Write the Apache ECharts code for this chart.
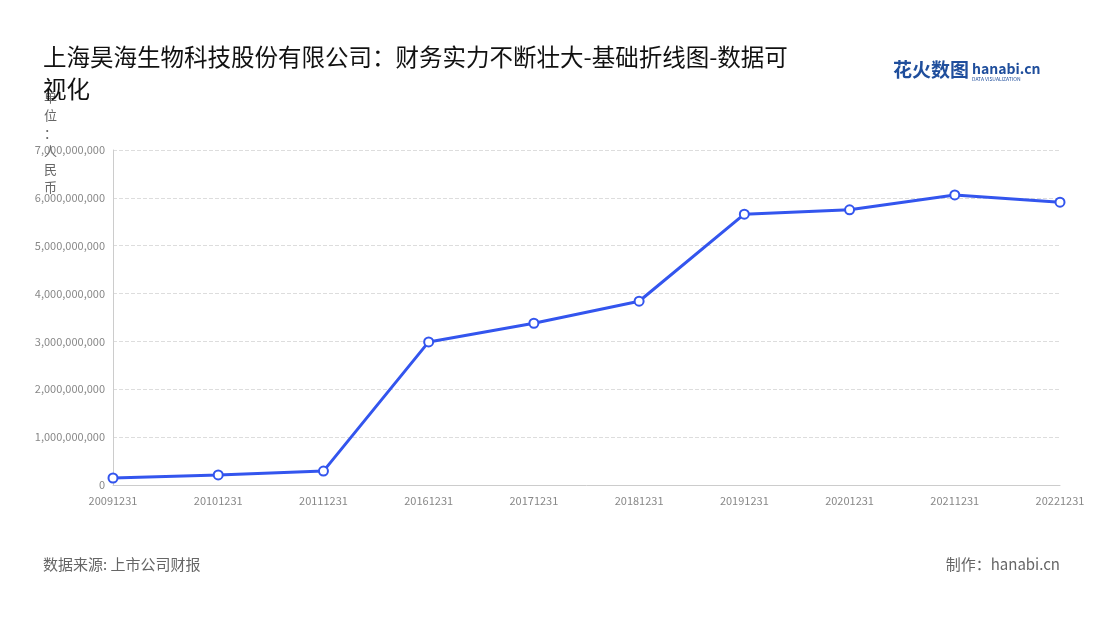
<!DOCTYPE html>
<html><head><meta charset="utf-8">
<script src="https://cdn.jsdelivr.net/npm/echarts@6/dist/echarts.min.js"></script>
<style>html,body{margin:0;padding:0;background:#fff}#c{width:1100px;height:620px}</style>
</head><body><div id="c"></div>
<script>
const categories = ['20091231','20101231','20111231','20161231','20171231','20181231','20191231','20201231','20211231','20221231'];
const values = [146000000,210000000,290000000,2990000000,3380000000,3840000000,5660000000,5750000000,6060000000,5910000000];
const chart = echarts.init(document.getElementById('c'));
const ff = '"Noto Sans CJK SC","Noto Sans",sans-serif';
chart.setOption({
  animation:false,
  textStyle:{fontFamily:ff},
  title:{text:'上海昊海生物科技股份有限公司：财务实力不断壮大-基础折线图-数据可\n视化',left:38,top:36,
    textStyle:{fontSize:23.5,fontWeight:'normal',color:'#111',lineHeight:32,fontFamily:ff}},
  graphic:[
    {type:'text',left:893,top:60,style:{text:'花火数图',fontSize:19,fontWeight:'bold',fill:'#1f4e9c',fontFamily:ff}},
    {type:'text',left:972,top:62,style:{text:'hanabi.cn',fontSize:14,fontWeight:'bold',fill:'#1f4e9c',fontFamily:ff}},
    {type:'text',left:972,top:77,style:{text:'DATA VISUALIZATION',fontSize:5,fill:'#1f4e9c',fontFamily:ff}},
    {type:'text',left:43,top:557,style:{text:'数据来源: 上市公司财报',fontSize:15,fill:'#666',fontFamily:ff}},
    {type:'text',right:40,top:557,style:{text:'制作：hanabi.cn',fontSize:15,fill:'#666',fontFamily:ff}},
    {type:'text',left:44,top:88,style:{text:'单\n位\n：\n人\n民\n币',fontSize:13,lineHeight:18,fill:'#666',fontFamily:ff}}
  ],
  grid:{left:113,right:40,top:150,bottom:135},
  xAxis:{type:'category',boundaryGap:false,data:categories,
    axisLine:{lineStyle:{color:'#ccc'}},axisTick:{show:false},
    axisLabel:{color:'#888',fontSize:11,margin:10}},
  yAxis:{type:'value',min:0,max:7000000000,interval:1000000000,
    axisLine:{show:true,lineStyle:{color:'#ccc'}},
    axisLabel:{color:'#888',fontSize:11,formatter:v=>v.toLocaleString('en-US')},
    splitLine:{lineStyle:{type:'dashed',color:'#ddd'}}},
  series:[{type:'line',data:values,symbol:'circle',symbolSize:9,
    lineStyle:{color:'#3355ee',width:3},
    itemStyle:{color:'#fff',borderColor:'#3355ee',borderWidth:2}}]
});
</script></body></html>
